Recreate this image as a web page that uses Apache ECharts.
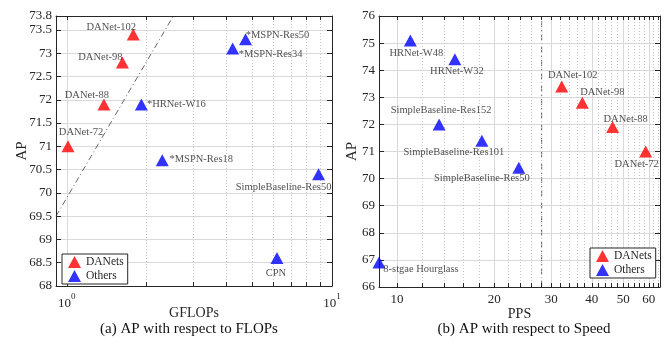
<!DOCTYPE html>
<html>
<head>
<meta charset="utf-8">
<script src="https://cdn.jsdelivr.net/npm/echarts@6/dist/echarts.min.js"></script>
<style>
  html, body { margin: 0; padding: 0; background: #fff; }
  #wrap { position: relative; width: 667px; height: 344px; }
  #grid, #chart { position: absolute; left: 0; top: 0; width: 667px; height: 344px; }
</style>
</head>
<body>
<div id="wrap">
  <div id="grid"></div>
  <div id="chart"></div>
</div>
<script>
// (a) AP vs GFLOPs
const flopsDanetNames = ["DANet-102", "DANet-98", "DANet-88", "DANet-72"];
const flopsDanetX = [1.78, 1.62, 1.38, 1.01];
const flopsDanetY = [73.4, 72.8, 71.9, 71.0];
const flopsOtherNames = ["*MSPN-Res50", "*MSPN-Res34", "*HRNet-W16", "*MSPN-Res18", "SimpleBaseline-Res50", "CPN"];
const flopsOtherX = [4.72, 4.22, 1.91, 2.29, 8.9, 6.2];
const flopsOtherY = [73.3, 73.1, 71.9, 70.7, 70.4, 68.6];
const flopsTrendX = [0.91, 2.52];
const flopsTrendY = [69.5, 73.8];
const flopsXRange = [0.91, 10];
const flopsYRange = [68, 73.8];
const flopsMajorTicks = [1, 10];
const flopsMinorTicks = [2, 3, 4, 5, 6, 7, 8, 9];

// (b) AP vs PPS
const speedDanetNames = ["DANet-102", "DANet-98", "DANet-88", "DANet-72"];
const speedDanetX = [32.3, 37.4, 46.4, 58.7];
const speedDanetY = [73.4, 72.8, 71.9, 71.0];
const speedOtherNames = ["HRNet-W48", "HRNet-W32", "SimpleBaseline-Res152", "SimpleBaseline-Res101", "SimpleBaseline-Res50", "8-stgae Hourglass"];
const speedOtherX = [11.0, 15.1, 13.5, 18.3, 23.8, 8.8];
const speedOtherY = [75.1, 74.4, 72.0, 71.4, 70.4, 66.9];
const speedCutX = [28, 28];
const speedCutY = [66, 76];
const speedXRange = [8.8, 65];
const speedYRange = [66, 76];
const speedMajorTicks = [10, 20, 30, 40, 50, 60];
const speedMinorTicks = [12, 14, 16, 18, 22, 24, 26, 28, 32, 34, 36, 38, 42, 44, 46, 48, 52, 54, 56, 58, 62, 64];

// label offsets from marker centre, same order as the names above
const flopsDanetOffsets = [[-22, -7], [-22, -5], [-17, -9], [13, -14]];
const flopsOtherOffsets = [[32, -4], [38, 6], [35, 0], [39, -1], [-35, 13], [-1, 15]];
const speedDanetOffsets = [[11, -11], [20, -10], [13, -8], [-9, 13]];
const speedOtherOffsets = [[6, 13], [2, 12], [2, -14], [-28, 12], [-37, 10], [42, 7]];

const serif = '"Liberation Serif", "DejaVu Serif", serif';
const ink = "#262626";
const gridMajor = "#d9d9d9";
const gridMinor = "#c6c6c6";
const grids = [
  { left: 56, top: 16, width: 276, height: 270 },
  { left: 379, top: 16, width: 281, height: 271 },
];

// ---- back layer: grid lines and dash-dot guides, kept plain ----
const bg = echarts.init(document.getElementById("grid"));
const hidden = { axisLine: { show: false }, axisTick: { show: false }, axisLabel: { show: false } };
const solidSplit = { show: true, lineStyle: { color: gridMajor, width: 1 } };

function minorLines(values) {
  return values.map((v) => ({ xAxis: v, lineStyle: { color: gridMinor, width: 1, type: [1, 2] } }));
}

function guide(idx, xs, ys, minor) {
  return {
    type: "line",
    xAxisIndex: idx,
    yAxisIndex: idx,
    symbol: "none",
    silent: true,
    lineStyle: { color: "#666", width: 1, type: [6, 3, 1, 3] },
    data: xs.map((x, i) => [x, ys[i]]),
    markLine: { silent: true, symbol: "none", label: { show: false }, data: minorLines(minor) },
  };
}

bg.setOption({
  animation: false,
  backgroundColor: "#fff",
  grid: grids,
  xAxis: [
    Object.assign({ type: "log", gridIndex: 0, min: flopsXRange[0], max: flopsXRange[1], splitLine: solidSplit }, hidden),
    Object.assign({ type: "log", gridIndex: 1, min: speedXRange[0], max: speedXRange[1], splitLine: solidSplit }, hidden,
      { axisTick: { show: false, customValues: speedMajorTicks }, axisLabel: { show: false, customValues: speedMajorTicks } }),
  ],
  yAxis: [
    Object.assign({ type: "value", gridIndex: 0, min: flopsYRange[0], max: flopsYRange[1], interval: 0.5, splitLine: solidSplit }, hidden),
    Object.assign({ type: "value", gridIndex: 1, min: speedYRange[0], max: speedYRange[1], interval: 1, splitLine: solidSplit }, hidden),
  ],
  series: [
    guide(0, flopsTrendX, flopsTrendY, flopsMinorTicks),
    guide(1, speedCutX, speedCutY, speedMinorTicks),
  ],
});

// ---- front layer: axes, markers, labels, legends, captions ----
function points(xs, ys, names, offsets) {
  return xs.map((x, i) => ({
    value: [x, ys[i]],
    name: names[i],
    label: { offset: offsets[i] },
  }));
}

function scatter(name, color, idx, data) {
  return {
    name: name,
    type: "scatter",
    xAxisIndex: idx * 2,
    yAxisIndex: idx * 2,
    symbol: "triangle",
    symbolSize: [13, 12],
    clip: false,
    itemStyle: { color: color },
    label: {
      show: true,
      position: "inside",
      formatter: "{b}",
      color: ink,
      fontFamily: serif,
      fontSize: 10.5,
    },
    data: data,
    z: 5,
  };
}

function xAxes(grid, range, major, minor, labelOpt, title) {
  const all = major.concat(minor).sort((a, b) => a - b);
  const base = {
    type: "log", gridIndex: grid, min: range[0], max: range[1], logBase: 10,
    axisLine: { show: true, onZero: false, lineStyle: { color: ink, width: 1 } },
    axisTick: { inside: true, length: 4, customValues: all, lineStyle: { color: ink } },
    splitLine: { show: false },
  };
  return [
    Object.assign({}, base, {
      position: "bottom",
      axisLabel: Object.assign({ customValues: major, margin: 6, color: ink, fontFamily: serif, fontSize: 13 }, labelOpt),
      name: title,
      nameLocation: "middle",
      nameGap: 20,
      nameMoveOverlap: false,
      nameTextStyle: { color: ink, fontFamily: serif, fontSize: 14 },
    }),
    Object.assign({}, base, { position: "top", axisLabel: { show: false } }),
  ];
}

function yAxes(grid, range, interval, gap) {
  const base = {
    type: "value", gridIndex: grid, min: range[0], max: range[1], interval: interval,
    axisLine: { show: true, onZero: false, lineStyle: { color: ink, width: 1 } },
    axisTick: { show: true, inside: true, length: 5, lineStyle: { color: ink } },
    splitLine: { show: false },
  };
  return [
    Object.assign({}, base, {
      position: "left",
      axisLabel: { margin: 4, color: ink, fontFamily: serif, fontSize: 13 },
      name: "AP",
      nameLocation: "middle",
      nameGap: gap,
      nameMoveOverlap: false,
      nameRotate: 90,
      nameTextStyle: { color: ink, fontFamily: serif, fontSize: 15 },
    }),
    Object.assign({}, base, { position: "right", axisLabel: { show: false } }),
  ];
}

function legend(left, top) {
  return {
    left: left,
    top: top,
    orient: "vertical",
    data: ["DANets", "Others"],
    icon: "triangle",
    itemWidth: 13,
    itemHeight: 12,
    itemGap: 2,
    padding: [2, 4, 2, 6],
    borderColor: ink,
    borderWidth: 1,
    backgroundColor: "#fff",
    textStyle: { color: ink, fontFamily: serif, fontSize: 11.5 },
  };
}

const chart = echarts.init(document.getElementById("chart"));

chart.setOption({
  animation: false,
  backgroundColor: "transparent",
  title: [
    {
      text: "(a) AP with respect to FLOPs",
      left: 189, top: 322, padding: 0, textAlign: "center",
      textStyle: { color: "#111", fontFamily: serif, fontSize: 15, fontWeight: "normal" },
    },
    {
      text: "(b) AP with respect to Speed",
      left: 524, top: 322, padding: 0, textAlign: "center",
      textStyle: { color: "#111", fontFamily: serif, fontSize: 15, fontWeight: "normal" },
    },
  ],
  legend: [legend(62, 254), legend(590, 248)],
  grid: grids,
  xAxis: [].concat(
    xAxes(0, flopsXRange, flopsMajorTicks, flopsMinorTicks, {
      formatter: (v) => "{b|10}{s|" + Math.round(Math.log10(v)) + "}",
      rich: {
        b: { fontFamily: serif, fontSize: 13, color: ink, lineHeight: 18, verticalAlign: "bottom" },
        s: { fontFamily: serif, fontSize: 9, color: ink, lineHeight: 18, verticalAlign: "top" },
      },
    }, "GFLOPs"),
    xAxes(1, speedXRange, speedMajorTicks, speedMinorTicks, {}, "PPS")
  ),
  yAxis: [].concat(yAxes(0, flopsYRange, 0.5, 26), yAxes(1, speedYRange, 1, 19)),
  series: [
    scatter("DANets", "#ff0000", 0, points(flopsDanetX, flopsDanetY, flopsDanetNames, flopsDanetOffsets)),
    scatter("Others", "#0000ff", 0, points(flopsOtherX, flopsOtherY, flopsOtherNames, flopsOtherOffsets)),
    scatter("DANets", "#ff0000", 1, points(speedDanetX, speedDanetY, speedDanetNames, speedDanetOffsets)),
    scatter("Others", "#0000ff", 1, points(speedOtherX, speedOtherY, speedOtherNames, speedOtherOffsets)),
  ],
});
</script>
</body>
</html>
